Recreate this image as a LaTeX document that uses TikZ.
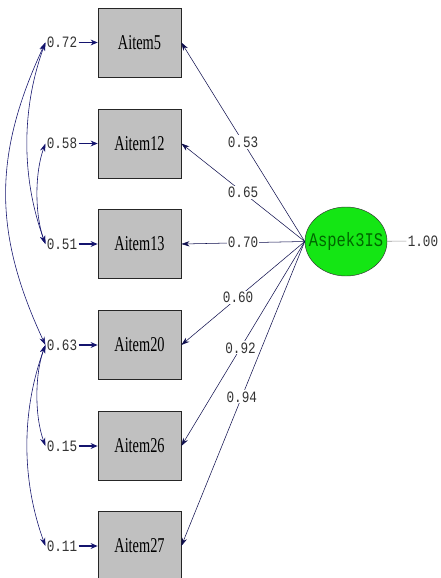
\documentclass[tikz,border=0pt]{standalone}
\usepackage{fontspec}
\setmainfont{Liberation Serif}
\setmonofont{Liberation Mono}
\newfontfamily\itemfont[FakeStretch=0.68]{Liberation Serif}
\newfontfamily\numfont[FakeStretch=0.8]{Liberation Mono}
\usetikzlibrary{arrows.meta, shapes.geometric}
\definecolor{boxgray}{RGB}{192,192,192}
\definecolor{navy}{RGB}{20,20,110}
\definecolor{lvgreen}{RGB}{20,230,20}

\begin{document}
\begin{tikzpicture}[x=0.03cm, y=-0.03cm,
	itembox/.style={draw=black!85, fill=boxgray, line width=0.6pt, minimum width=2.49cm, minimum height=2.07cm, font=\itemfont\fontsize{18}{18}\selectfont},
	errlbl/.style={font=\numfont\fontsize{13.5}{13.5}\selectfont, inner sep=1pt, text=black!80},
	coef/.style={font=\numfont\fontsize{13.5}{13.5}\selectfont, fill=white, inner sep=1pt, text=black!80},
	errarrow/.style={navy, line width=0.9pt, -{Stealth[length=6pt, width=5pt]}},
	patharrow/.style={navy!70!black, line width=0.45pt, -{Stealth[length=7pt, width=4.5pt]}},
	covarrow/.style={navy, line width=0.5pt, {Stealth[length=7pt, width=4.5pt]}-{Stealth[length=7pt, width=4.5pt]}}]
					\clip (0,0) rectangle (441,578);
					\fill[white] (0,0) rectangle (441,578);
					
					\node[itembox] (a5) at (139.5,42.5) {Aitem5};
					\node[itembox] (a12) at (139.5,143.5) {Aitem12};
					\node[itembox] (a13) at (139.5,244) {Aitem13};
					\node[itembox] (a20) at (139.5,345) {Aitem20};
					\node[itembox] (a26) at (139.5,446) {Aitem26};
					\node[itembox] (a27) at (139.5,546) {Aitem27};
					
					\node[errlbl] (e5) at (62,42.5) {0.72};
					\node[errlbl] (e12) at (62,143.5) {0.58};
					\node[errlbl] (e13) at (62,244) {0.51};
					\node[errlbl] (e20) at (62,345) {0.63};
					\node[errlbl] (e26) at (62,446) {0.15};
					\node[errlbl] (e27) at (62,546) {0.11};
					
					\foreach \i in {5,12,13,20,26,27}
						\draw[errarrow] (e\i) -- (a\i);
					
					\node[ellipse, draw=black!80, fill=lvgreen, minimum width=2.46cm, minimum height=2.07cm, inner xsep=-8pt, inner ysep=0pt, font=\numfont\fontsize{16.5}{16.5}\selectfont, text=black!60!green] (lv) at (346,241.5) {Aspek3IS};
					\node[errlbl] (lvv) at (423,241) {1.00};
					\draw[black!40, line width=0.5pt] (lv) -- (lvv);
					
					\draw[patharrow] (lv.west) -- node[coef, pos=0.5] {0.53} (a5.east);
					\draw[patharrow] (lv.west) -- node[coef, pos=0.5] {0.65} (a12.east);
					\draw[patharrow] (lv.west) -- node[coef, pos=0.5] {0.70} (a13.east);
					\draw[patharrow] (lv.west) -- node[coef, pos=0.54] {0.60} (a20.east);
					\draw[patharrow] (lv.west) -- node[coef, pos=0.52] {0.92} (a26.east);
					\draw[patharrow] (lv.west) -- node[coef, pos=0.51] {0.94} (a27.east);
					
					% covariances between error terms
					\draw[covarrow] (e5.west) to[out=245, in=115, looseness=1.05] (e20.west);
					\draw[covarrow] (e5.west) to[out=250, in=110, looseness=0.9] (e13.west);
					\draw[covarrow] (e12.west) to[out=250, in=110, looseness=0.8] (e13.west);
					\draw[covarrow] (e20.west) to[out=250, in=110, looseness=0.8] (e26.west);
					\draw[covarrow] (e20.west) to[out=250, in=110, looseness=0.9] (e27.west);
				\end{tikzpicture}
\end{document}
